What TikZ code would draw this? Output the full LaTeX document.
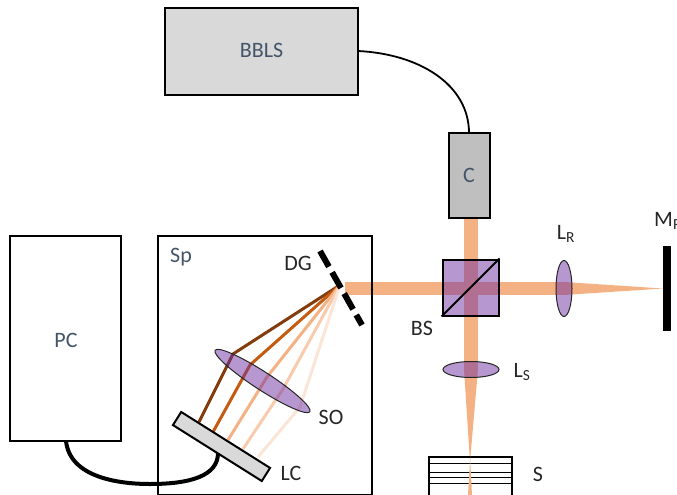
\documentclass[tikz,border=0pt]{standalone}
\usepackage{fontspec}
\setmainfont{Carlito}
\usetikzlibrary{shapes.geometric}

\definecolor{beam}{HTML}{F4B183}
\definecolor{glass}{HTML}{7030A0}
\definecolor{slate}{HTML}{44546A}
\definecolor{ink}{HTML}{262626}

\begin{document}
\begin{tikzpicture}
	[
	x=1pt, y=-1pt,
	box/.style={draw=black, line width=2pt, inner sep=0pt},
	lens/.style={ellipse, draw=ink, line width=1pt, fill=glass, fill opacity=0.5, inner sep=0pt},
	lbl/.style={text=ink, font=\fontsize{22}{24}\selectfont, inner sep=0pt},
	tag/.style={text=slate, font=\fontsize{22}{24}\selectfont, inner sep=0pt},
	ray/.style={line width=3pt},
	]
		\useasboundingbox (0,0) rectangle (677,495);
		\clip (0,0) rectangle (677,495);
		
		% beams, under the optics
		\fill[beam] (464,218) rectangle (478,369);
		\fill[beam] (345,282) rectangle (564,295);
		\fill[beam] (564,282) -- (663,288.5) -- (564,295) -- cycle;
		\fill[beam] (464,369) -- (470,462) -- (478,369) -- cycle;
		
		% spectrometer rays
		\coordinate (dg0) at (340,285);
		\foreach \name/\hit/\end/\col in {
			a/{233,354}/{199,422}/843C0C,
			b/{250,365}/{213,432}/C55A11,
			c/{267,377}/{228,440}/F4B183,
			d/{283,389}/{243,449}/F8CBAD,
			e/{300,407}/{258,457}/FBE5D6} {
			\definecolor{raycol}{HTML}{\col}
			\coordinate (\name1) at (\hit);
			\coordinate (\name2) at (\end);
			\draw[ray, raycol, line join=round] (dg0) -- (\name1) -- (\name2);
		}
		
		% boxes
		\node[box, fill=black!15, minimum width=193pt, minimum height=87pt] (bbls) at (261.5,51.5) {};
		\node[box, fill=black!25, minimum width=41pt, minimum height=85pt] (coll) at (469.5,175.5) {};
		\node[box, minimum width=111pt, minimum height=205pt] (pc) at (65.5,338.5) {};
		\node[box, minimum width=214pt, minimum height=259pt] (sp) at (265,365.5) {};
		
		% cable to the camera, then the camera
		\coordinate (cam) at (218,453);
		\coordinate (cbot) at (150,484);
		\coordinate (pcout) at (66,441);
		\draw[line width=4pt] (pcout) .. controls (70,478) and (120,484) .. (cbot) .. controls (190,484) and (218,476) .. (cam);
		\node[box, fill=black!15, rotate=-32.2, minimum width=105pt, minimum height=15.5pt] (lc) at (221.5,446.5) {};
		
		% fibre
		\coordinate (bout) at (358,51);
		\coordinate (cin) at (469,133);
		\draw[line width=1.8pt] (bout) .. controls (420,54) and (469,85) .. (cin);
		
		% optics
		\node[lens, rotate=-33, minimum width=113pt, minimum height=18pt] (so) at (262.5,381) {};
		\node[lens, minimum width=16pt, minimum height=56pt] (lr) at (564,288.5) {};
		\node[lens, minimum width=56pt, minimum height=16pt] (ls) at (471,369.5) {};
		\node[box, fill=glass, fill opacity=0.5, draw opacity=1, minimum width=56pt, minimum height=56pt] (bs) at (470.5,287.5) {};
		\draw[line width=2pt] (bs.south west) -- (bs.north east);
		
		% mirror and grating
		\node[fill=black, minimum width=8pt, minimum height=85pt, inner sep=0pt] (mr) at (667,288.5) {};
		\coordinate (dga) at (320,251);
		\coordinate (dgb) at (362,325);
		\draw[line width=6pt, dash pattern=on 18pt off 6.5pt] (dga) -- (dgb);
		
		% sample
		\node[box, line width=1.6pt, minimum width=83pt, minimum height=39pt, anchor=north west] (smp) at (428,456) {};
		\foreach \y in {463,472,477,483} \draw[line width=1pt] (428,\y) -- (511,\y);
		\fill[beam] (470,456) -- (470,462) -- (468,495) -- (472,495) -- cycle;
		
		% labels
		\node[tag] (tbbls) at (261.5,50) {BBLS};
		\node[tag] (tc) at (469,175.5) {C};
		\node[tag] (tpc) at (66,340) {PC};
		\node[tag] (tsp) at (181,257) {Sp};
		\node[lbl] (tdg) at (298,263) {DG};
		\node[lbl] (tbs) at (422,328) {BS};
		\node[lbl] (tlr) at (566,234) {L\textsubscript{R}};
		\node[lbl, anchor=west] (tmr) at (654,221) {M\textsubscript{R}};
		\node[lbl] (tls) at (522,372) {L\textsubscript{S}};
		\node[lbl] (ts) at (538,474) {S};
		\node[lbl] (tso) at (331,417) {SO};
		\node[lbl] (tlc) at (291,473) {LC};
		
	\end{tikzpicture}
\end{document}
